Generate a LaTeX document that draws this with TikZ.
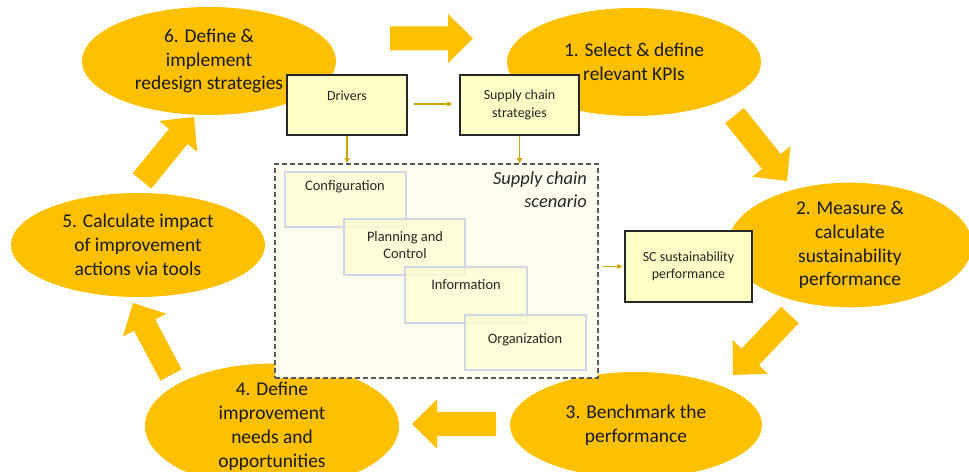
\documentclass[tikz,border=0pt]{standalone}
\usepackage{fontspec}
\setmainfont{Carlito}
\usetikzlibrary{shapes.geometric,arrows.meta,calc}
\definecolor{gold}{HTML}{FFC000}
\definecolor{boxfill}{HTML}{FFFFC6}
\definecolor{conn}{HTML}{C9A800}
\definecolor{scenfill}{HTML}{FFFFF0}
\definecolor{innerfill}{HTML}{FFFFD2}
\definecolor{innerdraw}{HTML}{CDD8E4}
\definecolor{boxdraw}{HTML}{262626}
\definecolor{dashdraw}{HTML}{595959}
\newcommand\blockarrow[3]{%
  \coordinate (#1h) at ($(#3)!25bp!(#2)$);
  \fill[gold] ($(#2)!12bp!90:(#3)$) -- ($(#1h)!12bp!90:(#3)$) -- ($(#1h)!24.5bp!90:(#3)$) -- (#3)
    -- ($(#1h)!24.5bp!-90:(#3)$) -- ($(#1h)!12bp!-90:(#3)$) -- ($(#2)!12bp!-90:(#3)$) -- cycle;}
\tikzset{
  stage/.style={ellipse, fill=gold, inner sep=0pt, align=center, text=black!90,
    font=\fontsize{19.5}{24}\selectfont},
  mainbox/.style={draw=boxdraw, line width=1.5bp, fill=boxfill, inner sep=0pt},
  innerbox/.style={draw=innerdraw, line width=1.2bp, fill=innerfill, fill opacity=0.75, inner sep=0pt},
  boxtext/.style={align=center, font=\fontsize{14}{17.5}\selectfont, text=black!85, inner sep=0pt},
  conn/.style={draw=conn, line width=1.5bp, -{Triangle[length=5bp,width=5bp]}},
}
\begin{document}
\begin{tikzpicture}[x=1bp,y=-1bp]
\useasboundingbox (0,0) rectangle (969,472);
% stages
\node[stage, minimum width=254bp, minimum height=108bp] (s6) at (209,61)
  {6. Define \&\\implement\\redesign strategies};
\node[stage, minimum width=254bp, minimum height=108bp] (s1) at (634,62)
  {1. Select \& define\\relevant KPIs};
\node[stage, minimum width=244bp, minimum height=106bp] (s2) at (850,245)
  {2. Measure \&\\calculate\\sustainability\\performance};
\node[stage, minimum width=252bp, minimum height=106bp] (s3) at (636,425)
  {3. Benchmark the\\performance};
\node[stage, minimum width=254bp, minimum height=110bp] (s4) at (272,426)
  {4. Define\\improvement\\needs and\\opportunities};
\node[stage, minimum width=254bp, minimum height=104bp] (s5) at (138,245)
  {5. Calculate impact\\of improvement\\actions via tools};
% block arrows
\coordinate (a1t) at (390,38.5); \coordinate (a1p) at (473,38.5);
\coordinate (a2t) at (734.5,115.5); \coordinate (a2p) at (787,181);
\coordinate (a3t) at (790,315); \coordinate (a3p) at (733,375);
\coordinate (a4t) at (496,424); \coordinate (a4p) at (412,424);
\coordinate (a5t) at (171,375); \coordinate (a5p) at (133,303);
\coordinate (a6t) at (142,181); \coordinate (a6p) at (194,117);
\blockarrow{a1}{a1t}{a1p}
\blockarrow{a2}{a2t}{a2p}
\blockarrow{a3}{a3t}{a3p}
\blockarrow{a4}{a4t}{a4p}
\blockarrow{a5}{a5t}{a5p}
\blockarrow{a6}{a6t}{a6p}
% scenario
\node[draw=dashdraw, line width=1.5bp, dash pattern=on 5bp off 3bp, fill=scenfill,
  minimum width=323bp, minimum height=214bp, inner sep=0pt] (scen) at (436.5,271) {};
\node[innerbox, minimum width=121bp, minimum height=55bp] (cfg) at (345.5,199.5) {};
\node[innerbox, minimum width=121bp, minimum height=56bp] (plc) at (404.5,247) {};
\node[innerbox, minimum width=122bp, minimum height=56bp] (inf) at (466,295) {};
\node[innerbox, minimum width=121bp, minimum height=55bp] (org) at (525.5,342.5) {};
\node[boxtext, font=\fontsize{14.5}{17}\selectfont] (cfgT) at (345,187) {Configuration};
\node[boxtext, font=\fontsize{14.5}{17}\selectfont] (plcT) at (405,245.5) {Planning and\\Control};
\node[boxtext, font=\fontsize{14.5}{17}\selectfont] (infT) at (466,285) {Information};
\node[boxtext, font=\fontsize{14.5}{17}\selectfont] (orgT) at (525,340) {Organization};
\node[align=right, anchor=north east, inner sep=0pt, font=\fontsize{18.5}{23}\selectfont\itshape, text=black!85]
  (scenT) at (587,172) {Supply chain\\scenario};
% main boxes
\node[mainbox, minimum width=120bp, minimum height=60bp] (drv) at (347,105) {};
\node[boxtext] (drvT) at (347,95.5) {Drivers};
\node[mainbox, boxtext, minimum width=119bp, minimum height=60bp] (scs) at (519.5,105)
  {Supply chain\\strategies};
\node[mainbox, boxtext, minimum width=127bp, minimum height=71bp] (sus) at (688.5,266.5)
  {SC sustainability\\performance};
% connectors
\draw[conn, shorten <=6bp, shorten >=7bp] (drv.east |- 0,104) -- (scs.west |- 0,104);
\draw[conn] (drv.south) -- (drv.south |- scen.north);
\draw[conn] (scs.south) -- (scs.south |- scen.north);
\draw[conn, shorten <=4bp, shorten >=2bp] (scen.east |- sus.west) -- (sus.west);
\end{tikzpicture}
\end{document}
